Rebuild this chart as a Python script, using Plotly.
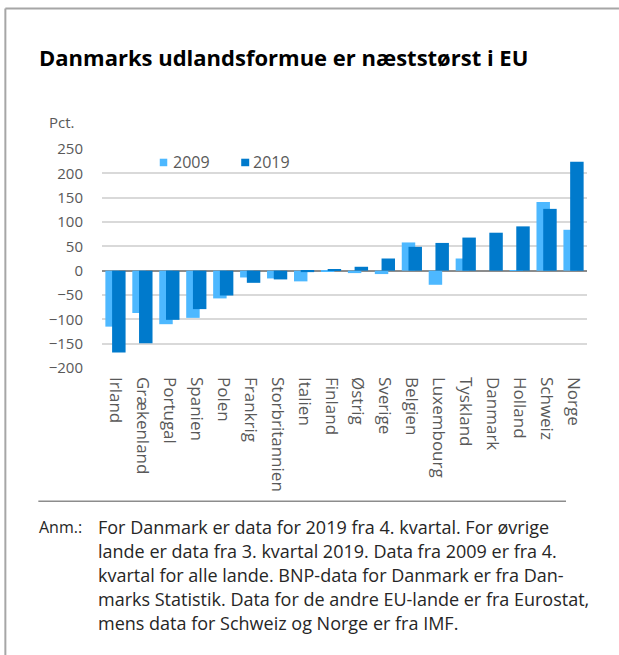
import plotly.graph_objects as go

countries = ["Irland", "Grækenland", "Portugal", "Spanien", "Polen", "Frankrig",
             "Storbritannien", "Italien", "Finland", "Østrig", "Sverige", "Belgien",
             "Luxembourg", "Tyskland", "Danmark", "Holland", "Schweiz", "Norge"]
v2009 = [-115, -87, -110, -97, -57, -14, -16, -22, -1, -5, -7, 58, -29, 25, 0, 1, 141, 84]
v2019 = [-168, -149, -101, -79, -51, -25, -18, -3, 2, 8, 25, 49, 57, 68, 78, 91, 127, 224]
y_ticks = [-200, -150, -100, -50, 0, 50, 100, 150, 200, 250]

W, H = 619, 655
L, R, T, B = 101.7, 32, 149.3, 287
pw, ph = W - L - R, H - T - B

def px(x):
    return (x - L) / pw

def py(y):
    return (H - B - y) / ph

C09 = "#4DB8FF"
C19 = "#007ACC"
GRAY = "#595959"
NOTE = "#262626"
FONT = "Open Sans"

fig = go.Figure()
fig.add_trace(go.Bar(x=list(range(len(countries))), y=v2009, name="2009",
                     marker=dict(color=C09, line=dict(width=0)),
                     width=0.5, offset=-0.375))
fig.add_trace(go.Bar(x=list(range(len(countries))), y=v2019, name="2019",
                     marker=dict(color=C19, line=dict(width=0)),
                     width=0.5, offset=-0.125))

fig.update_layout(
    width=W, height=H,
    margin=dict(l=L, r=R, t=T, b=B, pad=0),
    barmode="overlay",
    paper_bgcolor="white", plot_bgcolor="white",
    font=dict(family=FONT, color=GRAY, size=14),
    showlegend=False,
    xaxis=dict(tickmode="array", tickvals=list(range(len(countries))), ticktext=countries,
               tickangle=90, range=[-0.5, len(countries) - 0.5],
               showgrid=False, zeroline=False, showline=False, ticks="",
               ticklabelstandoff=8,
               tickfont=dict(size=17, color=GRAY, family=FONT)),
    yaxis=dict(range=[-200, 250], tickvals=y_ticks, showgrid=True,
               gridcolor="#D9D9D9", gridwidth=1.5, zeroline=True,
               zerolinecolor="#8C8C8C", zerolinewidth=1.5, showline=False, ticks="",
               ticklabelstandoff=18,
               tickfont=dict(size=15, color=GRAY, family=FONT)),
)

annotations = [
    dict(text="<b>Danmarks udlandsformue er næststørst i EU</b>", x=px(37), y=py(57),
         xanchor="left", yanchor="middle", font=dict(size=22, color="#000000", family=FONT)),
    dict(text="Pct.", x=px(47), y=py(122), xanchor="left", yanchor="middle",
         font=dict(size=15, color=GRAY, family=FONT)),
    dict(text="2009", x=px(171), y=py(162), xanchor="left", yanchor="middle",
         font=dict(size=16, color=GRAY, family=FONT)),
    dict(text="2019", x=px(251), y=py(162), xanchor="left", yanchor="middle",
         font=dict(size=16, color=GRAY, family=FONT)),
    dict(text="Anm.:", x=px(37), y=py(527), xanchor="left", yanchor="middle",
         font=dict(size=16, color=NOTE, family=FONT)),
]
note_lines = [
    "For Danmark er data for 2019 fra 4. kvartal. For øvrige",
    "lande er data fra 3. kvartal 2019. Data fra 2009 er fra 4.",
    "kvartal for alle lande. BNP-data for Danmark er fra Dan-",
    "marks Statistik. Data for de andre EU-lande er fra Eurostat,",
    "mens data for Schweiz og Norge er fra IMF.",
]
for i, line in enumerate(note_lines):
    annotations.append(dict(text=line, x=px(96), y=py(527 + 24 * i), xanchor="left",
                            yanchor="middle", font=dict(size=18, color=NOTE, family=FONT)))
for a in annotations:
    a.update(xref="paper", yref="paper", showarrow=False)
fig.update_layout(annotations=annotations)

shapes = [
    # frame
    dict(type="line", x0=px(5), x1=px(619), y0=py(9), y1=py(9), line=dict(color="#A6A6A6", width=2)),
    dict(type="line", x0=px(5), x1=px(5), y0=py(9), y1=py(655), line=dict(color="#A6A6A6", width=2)),
    # separator
    dict(type="line", x0=px(38), x1=px(566), y0=py(501), y1=py(501), line=dict(color="#8C8C8C", width=1.5)),
    # legend swatches
    dict(type="rect", x0=px(159.5), x1=px(167), y0=py(159), y1=py(166.5), fillcolor=C09, line=dict(width=0)),
    dict(type="rect", x0=px(241), x1=px(249), y0=py(159), y1=py(166.5), fillcolor=C19, line=dict(width=0)),
]
for s in shapes:
    s.update(xref="paper", yref="paper", layer="above")
fig.update_layout(shapes=shapes)

fig.write_html("out.html", config={"displayModeBar": False},
               post_script="document.body.style.margin='0';document.body.style.overflow='hidden';")
